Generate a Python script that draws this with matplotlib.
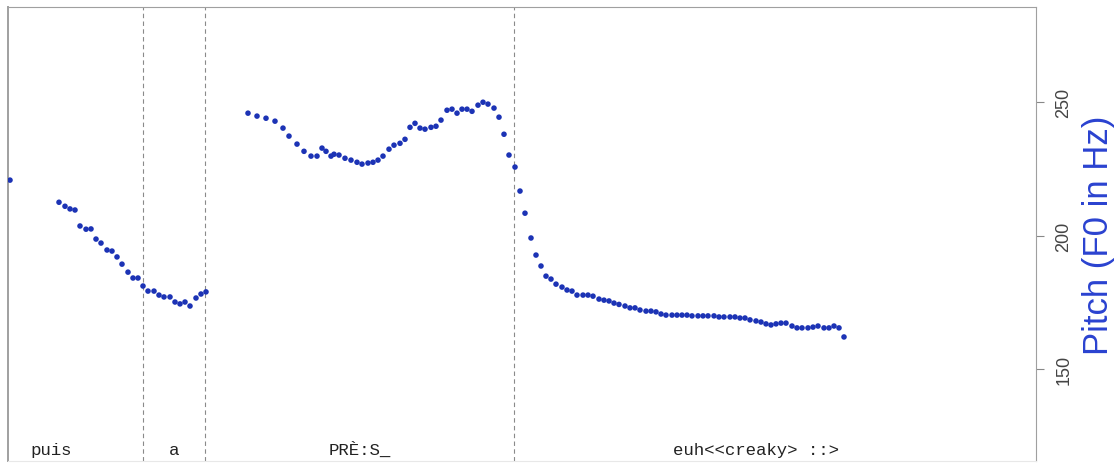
import matplotlib.pyplot as plt

# time axis in arbitrary units (frames), pitch in Hz
times = [10, 59, 65, 70, 75, 80, 86, 91, 96, 101, 107, 112, 117, 122, 128, 133, 138, 143, 148, 154,
         159, 164, 170, 175, 180, 185, 190, 196, 201, 206,
         248, 257, 266, 275, 283, 289, 297, 304, 311, 317, 322, 326, 331, 334, 339, 345, 351, 357, 362, 368,
         373, 378, 383, 389, 394, 400, 405, 410, 415, 420, 425, 431, 436, 441, 447, 452, 457, 462, 467, 472,
         478, 483, 488, 494, 499, 504, 509, 515,
         520, 525, 531, 536, 541, 546, 551, 556, 562, 567, 572, 577, 583, 588, 593, 599, 604, 609, 614, 619,
         625, 630, 635, 640, 646, 651, 656, 661, 666, 672, 677, 682, 687, 692, 698, 703, 708, 714, 719, 724,
         730, 735, 740, 745, 750, 756, 761, 766, 771, 776, 781, 786, 792, 797, 802, 808, 813, 818, 824, 829,
         834, 839, 844]
f0 = [220.8, 212.5, 211.0, 210.0, 209.6, 203.6, 202.4, 202.5, 198.7, 197.2, 194.6, 194.2, 192.0, 189.3,
      186.3, 184.1, 184.1, 181.1, 179.2, 179.2, 177.7, 177.0, 177.0, 175.1, 174.4, 175.1, 173.6, 176.6,
      178.1, 178.9,
      245.9, 244.8, 244.0, 242.9, 240.3, 237.3, 234.3, 231.6, 229.8, 229.8, 232.8, 231.6, 229.8, 230.5,
      230.2, 229.0, 228.3, 227.5, 226.8, 227.2, 227.5, 228.3, 229.8, 232.4, 233.9, 234.6, 236.1, 240.6,
      242.1, 240.3, 239.9, 240.6, 241.0, 243.3, 247.0, 247.4, 245.9, 247.4, 247.4, 246.6, 248.9, 250.0,
      249.3, 247.8, 244.4, 238.0, 230.2, 225.7,
      216.7, 208.4, 199.1, 192.7, 188.6, 184.8, 183.7, 181.8, 180.7, 179.6, 179.2, 177.7, 177.7, 177.7,
      177.3, 176.2, 175.8, 175.5, 174.7, 174.2, 173.6, 172.9, 172.9, 172.1, 171.7, 171.7, 171.4, 170.6,
      170.2, 170.2, 170.2, 170.2, 170.2, 169.9, 169.9, 169.9, 169.9, 169.9, 169.5, 169.5, 169.5, 169.5,
      169.1, 169.1, 168.4, 168.0, 167.6, 166.9, 166.5, 166.9, 167.2, 167.2, 166.1, 165.4, 165.4, 165.4,
      165.7, 166.1, 165.4, 165.4, 166.1, 165.4, 162.0]

# syllable tier
syllables = ['puis', 'a', 'PRÈ:S_', 'euh<<creaky> ::>']
seg_start = [-41, 143, 205, 514]
seg_end = [143, 205, 514, 998]
boundaries = [143, 205, 514]
yticks = [150, 200, 250]

fig = plt.figure(figsize=(11.17, 4.64), dpi=100)
ax = fig.add_axes([8 / 1117, 2 / 464, 1028 / 1117, 454 / 464])

ax.scatter(times, f0, s=16, color='#1c33b5', edgecolors='none', zorder=3)

for b in boundaries:
    ax.axvline(b, color='#8a8a8a', lw=0.8, ls=(0, (4, 3)), zorder=1)

for lab, s, e in zip(syllables, seg_start, seg_end):
    ax.text((s + e) / 2, 118.3, lab, ha='center', va='baseline',
            family='Liberation Mono', fontsize=12.5, color='#222222')

ax.set_xlim(8, 1036)
ax.set_ylim(115.5, 285.7)

ax.set_xticks([])
ax.yaxis.tick_right()
ax.yaxis.set_label_position('right')
ax.set_yticks(yticks)
ax.set_yticklabels([str(v) for v in yticks], rotation=90, va='center',
                   family='Liberation Sans', fontsize=13, color='#444444')
ax.tick_params(axis='y', length=6, width=0.8, color='#888888', pad=8)
ax.set_ylabel('Pitch (F0 in Hz)', color='#2a42d0', fontsize=25,
              family='Liberation Sans', labelpad=7)

for side in ['left', 'right', 'top', 'bottom']:
    ax.spines[side].set_color('#a0a0a0')
ax.spines['left'].set_linewidth(1.4)
ax.spines['bottom'].set_color('#e8e8e8')

fig.savefig('out.png', dpi=100)
